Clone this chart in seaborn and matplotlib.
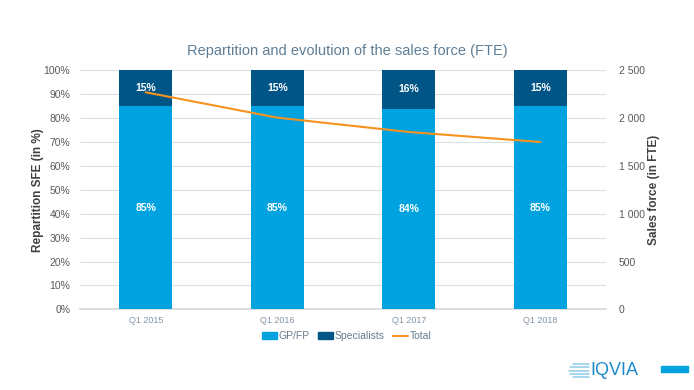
import numpy as np
import pandas as pd
import matplotlib.pyplot as plt
import seaborn as sns
from matplotlib.patches import Patch, Rectangle
from matplotlib.lines import Line2D
from matplotlib.ticker import FuncFormatter

quarters = ["Q1 2015", "Q1 2016", "Q1 2017", "Q1 2018"]
gp_share = [85, 85, 84, 85]
spec_share = [15, 15, 16, 15]
total_fte = [2270, 2005, 1855, 1750]

GP_COLOR = "#00A3E0"
SPEC_COLOR = "#005587"
TOTAL_COLOR = "#F7921E"
TEXT_GRAY = "#595959"

sns.set_theme(style="white")
plt.rcParams["font.family"] = ["Liberation Sans", "DejaVu Sans"]

df = pd.DataFrame({"quarter": quarters, "gp": gp_share, "spec": spec_share, "total": total_fte})
df["stack"] = df["gp"] + df["spec"]

fig = plt.figure(figsize=(6.94, 3.9), dpi=100)
ax = fig.add_axes([0.1153, 0.2069, 0.758, 0.6128])

# stacked bars: full height in specialists colour, GP part drawn over it
sns.barplot(data=df, x="quarter", y="stack", color=SPEC_COLOR, width=0.4, ax=ax,
            saturation=1, linewidth=0, zorder=2)
sns.barplot(data=df, x="quarter", y="gp", color=GP_COLOR, width=0.4, ax=ax,
            saturation=1, linewidth=0, zorder=3)

for i, (g, s) in enumerate(zip(gp_share, spec_share)):
    ax.text(i, g / 2, f"{g}%", ha="center", va="center", color="white",
            fontsize=7.5, fontweight="bold", zorder=5)
    ax.text(i, g + s / 2, f"{s}%", ha="center", va="center", color="white",
            fontsize=7.5, fontweight="bold", zorder=5)

ax.set_xlim(-0.5, 3.5)
ax.set_ylim(0, 100)
ax.set_yticks(np.arange(0, 101, 10))
ax.yaxis.set_major_formatter(FuncFormatter(lambda v, p: f"{int(v)}%"))
ax.grid(axis="y", color="#D9E1E7", linewidth=0.8, zorder=0)
ax.set_axisbelow(True)
for side in ["top", "right", "left"]:
    ax.spines[side].set_visible(False)
ax.spines["bottom"].set_color("#D9D9D9")
ax.tick_params(axis="y", labelsize=7.5, colors=TEXT_GRAY, length=0, pad=7)
ax.tick_params(axis="x", labelsize=6.5, colors="#8394A3", length=0, pad=5)
ax.set_xlabel("")
ax.set_ylabel("Repartition SFE (in %)", fontsize=8.5, fontweight="bold", color="#404040")
ax.yaxis.set_label_coords(-0.068, 0.5)

ax2 = ax.twinx()
sns.lineplot(x=np.arange(len(quarters)), y=total_fte, color=TOTAL_COLOR, linewidth=1.5, ax=ax2,
             zorder=6)
ax2.set_ylim(0, 2500)
ax2.set_yticks(np.arange(0, 2501, 500))
ax2.yaxis.set_major_formatter(FuncFormatter(lambda v, p: f"{int(v):,}".replace(",", " ")))
for side in ["top", "right", "left", "bottom"]:
    ax2.spines[side].set_visible(False)
ax2.tick_params(axis="y", labelsize=7.5, colors=TEXT_GRAY, length=0, pad=9)
ax2.set_ylabel("Sales force (in FTE)", fontsize=8.5, fontweight="bold", color="#404040")
ax2.yaxis.set_label_coords(1.08, 0.5)
ax2.set_xlim(-0.5, 3.5)

fig.text(0.5, 0.868, "Repartition and evolution of the sales force (FTE)", ha="center", va="center",
         fontsize=10.5, color="#5F7E95")

handles = [Patch(color=GP_COLOR), Patch(color=SPEC_COLOR), Line2D([], [], color=TOTAL_COLOR, lw=1.5)]
fig.legend(handles, ["GP/FP", "Specialists", "Total"], loc="center", bbox_to_anchor=(0.5, 0.138),
           ncol=3, frameon=False, fontsize=7.5, labelcolor="#6A7C8C", handlelength=1.4,
           handleheight=0.6, handletextpad=0.2, columnspacing=0.8)

# IQVIA footer
for k, w in enumerate([0.022, 0.026, 0.028, 0.026, 0.022]):
    fig.add_artist(Line2D([0.848 - w, 0.848], [0.066 - k * 0.008] * 2, color="#8FCBEA", lw=1.1))
fig.text(0.851, 0.05, "IQVIA", fontsize=13, color="#1C8ACB", va="center", ha="left")
fig.add_artist(Rectangle((0.953, 0.045), 0.038, 0.017, color="#00A3E0", transform=fig.transFigure))

fig.savefig("out.png", dpi=100)
